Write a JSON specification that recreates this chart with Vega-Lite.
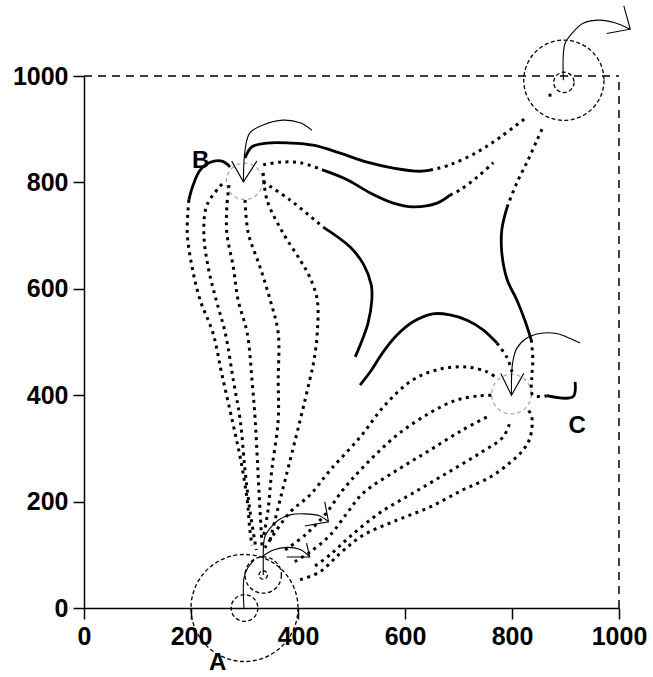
{
  "$schema": "https://vega.github.io/schema/vega-lite/v6.json",
  "autosize": {"type": "none"},
  "width": 535,
  "height": 532,
  "padding": {"left": 84, "top": 76, "right": 34, "bottom": 69},
  "background": "white",
  "config": {
    "view": {"stroke": null},
    "axis": {
      "title": null,
      "grid": false,
      "domainColor": "black",
      "domainWidth": 1.5,
      "tickColor": "black",
      "tickWidth": 1.5,
      "tickSize": 11,
      "labelFont": "Liberation Sans",
      "labelFontSize": 25,
      "labelFontWeight": "bold",
      "labelColor": "black",
      "labelPadding": 5,
      "labelFlush": false,
      "labelOverlap": false
    }
  },
  "datasets": {
    "frame": [
      {"x": 0, "y": 1000, "x2": 1000, "y2": 1000},
      {"x": 1000, "y": 0, "x2": 1000, "y2": 1000}
    ],
    "rings": [
      {"x": 300, "y": 0, "r": 100},
      {"x": 300, "y": 0, "r": 25},
      {"x": 335, "y": 62, "r": 34},
      {"x": 335, "y": 62, "r": 8},
      {"x": 897, "y": 992, "r": 75},
      {"x": 897, "y": 988, "r": 19}
    ],
    "targets": [
      {"x": 300, "y": 802, "r": 34},
      {"x": 799, "y": 402, "r": 37}
    ],
    "slow": [
      {"path": "B1h", "seq": 1, "x": 273, "y": 829}, {"path": "B1h", "seq": 2, "x": 258, "y": 840}, {"path": "B1h", "seq": 3, "x": 236, "y": 838}, {"path": "B1h", "seq": 4, "x": 217, "y": 823}, {"path": "B1h", "seq": 5, "x": 204, "y": 795}, {"path": "B1h", "seq": 6, "x": 196, "y": 767},
      {"path": "U1h", "seq": 1, "x": 301, "y": 846}, {"path": "U1h", "seq": 2, "x": 314, "y": 867}, {"path": "U1h", "seq": 3, "x": 342, "y": 874}, {"path": "U1h", "seq": 4, "x": 385, "y": 874}, {"path": "U1h", "seq": 5, "x": 428, "y": 870}, {"path": "U1h", "seq": 6, "x": 479, "y": 855}, {"path": "U1h", "seq": 7, "x": 529, "y": 838}, {"path": "U1h", "seq": 8, "x": 578, "y": 827}, {"path": "U1h", "seq": 9, "x": 628, "y": 821}, {"path": "U1h", "seq": 10, "x": 647, "y": 823},
      {"path": "U2h", "seq": 1, "x": 447, "y": 823}, {"path": "U2h", "seq": 2, "x": 492, "y": 805}, {"path": "U2h", "seq": 3, "x": 535, "y": 780}, {"path": "U2h", "seq": 4, "x": 578, "y": 761}, {"path": "U2h", "seq": 5, "x": 615, "y": 754}, {"path": "U2h", "seq": 6, "x": 660, "y": 761}, {"path": "U2h", "seq": 7, "x": 684, "y": 776},
      {"path": "Rh", "seq": 1, "x": 791, "y": 754}, {"path": "Rh", "seq": 2, "x": 781, "y": 711}, {"path": "Rh", "seq": 3, "x": 781, "y": 667}, {"path": "Rh", "seq": 4, "x": 791, "y": 617}, {"path": "Rh", "seq": 5, "x": 809, "y": 579}, {"path": "Rh", "seq": 6, "x": 824, "y": 541}, {"path": "Rh", "seq": 7, "x": 836, "y": 504},
      {"path": "H1h", "seq": 1, "x": 447, "y": 716}, {"path": "H1h", "seq": 2, "x": 497, "y": 679}, {"path": "H1h", "seq": 3, "x": 523, "y": 645}, {"path": "H1h", "seq": 4, "x": 537, "y": 607}, {"path": "H1h", "seq": 5, "x": 538, "y": 579}, {"path": "H1h", "seq": 6, "x": 531, "y": 536}, {"path": "H1h", "seq": 7, "x": 522, "y": 509}, {"path": "H1h", "seq": 8, "x": 507, "y": 472},
      {"path": "H2h", "seq": 1, "x": 516, "y": 419}, {"path": "H2h", "seq": 2, "x": 535, "y": 444}, {"path": "H2h", "seq": 3, "x": 559, "y": 481}, {"path": "H2h", "seq": 4, "x": 585, "y": 513}, {"path": "H2h", "seq": 5, "x": 615, "y": 538}, {"path": "H2h", "seq": 6, "x": 652, "y": 553}, {"path": "H2h", "seq": 7, "x": 684, "y": 551}, {"path": "H2h", "seq": 8, "x": 716, "y": 541}, {"path": "H2h", "seq": 9, "x": 746, "y": 523}, {"path": "H2h", "seq": 10, "x": 772, "y": 498},
      {"path": "Kh", "seq": 1, "x": 865, "y": 399}, {"path": "Kh", "seq": 2, "x": 914, "y": 397}, {"path": "Kh", "seq": 3, "x": 918, "y": 425}
    ],
    "fast": [
      {"path": "B1d", "seq": 1, "x": 196, "y": 767}, {"path": "B1d", "seq": 2, "x": 193, "y": 705}, {"path": "B1d", "seq": 3, "x": 202, "y": 641}, {"path": "B1d", "seq": 4, "x": 217, "y": 579}, {"path": "B1d", "seq": 5, "x": 241, "y": 517}, {"path": "B1d", "seq": 6, "x": 258, "y": 438}, {"path": "B1d", "seq": 7, "x": 277, "y": 353}, {"path": "B1d", "seq": 8, "x": 293, "y": 278}, {"path": "B1d", "seq": 9, "x": 305, "y": 203}, {"path": "B1d", "seq": 10, "x": 310, "y": 147}, {"path": "B1d", "seq": 11, "x": 314, "y": 118},
      {"path": "B2", "seq": 1, "x": 258, "y": 797}, {"path": "B2", "seq": 2, "x": 230, "y": 758}, {"path": "B2", "seq": 3, "x": 224, "y": 705}, {"path": "B2", "seq": 4, "x": 232, "y": 641}, {"path": "B2", "seq": 5, "x": 247, "y": 579}, {"path": "B2", "seq": 6, "x": 264, "y": 517}, {"path": "B2", "seq": 7, "x": 279, "y": 429}, {"path": "B2", "seq": 8, "x": 292, "y": 353}, {"path": "B2", "seq": 9, "x": 301, "y": 259}, {"path": "B2", "seq": 10, "x": 310, "y": 184}, {"path": "B2", "seq": 11, "x": 322, "y": 109},
      {"path": "B3", "seq": 1, "x": 271, "y": 795}, {"path": "B3", "seq": 2, "x": 267, "y": 754}, {"path": "B3", "seq": 3, "x": 267, "y": 705}, {"path": "B3", "seq": 4, "x": 279, "y": 641}, {"path": "B3", "seq": 5, "x": 288, "y": 579}, {"path": "B3", "seq": 6, "x": 305, "y": 517}, {"path": "B3", "seq": 7, "x": 314, "y": 429}, {"path": "B3", "seq": 8, "x": 320, "y": 353}, {"path": "B3", "seq": 9, "x": 325, "y": 259}, {"path": "B3", "seq": 10, "x": 329, "y": 184}, {"path": "B3", "seq": 11, "x": 333, "y": 113},
      {"path": "B4", "seq": 1, "x": 301, "y": 767}, {"path": "B4", "seq": 2, "x": 307, "y": 705}, {"path": "B4", "seq": 3, "x": 329, "y": 641}, {"path": "B4", "seq": 4, "x": 348, "y": 579}, {"path": "B4", "seq": 5, "x": 363, "y": 517}, {"path": "B4", "seq": 6, "x": 363, "y": 429}, {"path": "B4", "seq": 7, "x": 363, "y": 353}, {"path": "B4", "seq": 8, "x": 351, "y": 259}, {"path": "B4", "seq": 9, "x": 344, "y": 184}, {"path": "B4", "seq": 10, "x": 336, "y": 137},
      {"path": "B5", "seq": 1, "x": 335, "y": 818}, {"path": "B5", "seq": 2, "x": 342, "y": 767}, {"path": "B5", "seq": 3, "x": 372, "y": 705}, {"path": "B5", "seq": 4, "x": 404, "y": 654}, {"path": "B5", "seq": 5, "x": 422, "y": 622}, {"path": "B5", "seq": 6, "x": 436, "y": 579}, {"path": "B5", "seq": 7, "x": 436, "y": 517}, {"path": "B5", "seq": 8, "x": 430, "y": 466}, {"path": "B5", "seq": 9, "x": 422, "y": 429}, {"path": "B5", "seq": 10, "x": 404, "y": 353}, {"path": "B5", "seq": 11, "x": 376, "y": 241}, {"path": "B5", "seq": 12, "x": 357, "y": 165}, {"path": "B5", "seq": 13, "x": 348, "y": 128},
      {"path": "Ca", "seq": 1, "x": 338, "y": 113}, {"path": "Ca", "seq": 2, "x": 385, "y": 180}, {"path": "Ca", "seq": 3, "x": 422, "y": 212}, {"path": "Ca", "seq": 4, "x": 460, "y": 259}, {"path": "Ca", "seq": 5, "x": 516, "y": 321}, {"path": "Ca", "seq": 6, "x": 563, "y": 382}, {"path": "Ca", "seq": 7, "x": 615, "y": 429}, {"path": "Ca", "seq": 8, "x": 665, "y": 449}, {"path": "Ca", "seq": 9, "x": 716, "y": 453}, {"path": "Ca", "seq": 10, "x": 753, "y": 444}, {"path": "Ca", "seq": 11, "x": 772, "y": 432},
      {"path": "Cb", "seq": 1, "x": 376, "y": 109}, {"path": "Cb", "seq": 2, "x": 413, "y": 137}, {"path": "Cb", "seq": 3, "x": 450, "y": 175}, {"path": "Cb", "seq": 4, "x": 484, "y": 222}, {"path": "Cb", "seq": 5, "x": 522, "y": 265}, {"path": "Cb", "seq": 6, "x": 585, "y": 325}, {"path": "Cb", "seq": 7, "x": 647, "y": 367}, {"path": "Cb", "seq": 8, "x": 697, "y": 391}, {"path": "Cb", "seq": 9, "x": 740, "y": 399}, {"path": "Cb", "seq": 10, "x": 763, "y": 400},
      {"path": "Cc", "seq": 1, "x": 394, "y": 87}, {"path": "Cc", "seq": 2, "x": 422, "y": 105}, {"path": "Cc", "seq": 3, "x": 460, "y": 137}, {"path": "Cc", "seq": 4, "x": 492, "y": 179}, {"path": "Cc", "seq": 5, "x": 522, "y": 216}, {"path": "Cc", "seq": 6, "x": 585, "y": 259}, {"path": "Cc", "seq": 7, "x": 647, "y": 297}, {"path": "Cc", "seq": 8, "x": 708, "y": 335}, {"path": "Cc", "seq": 9, "x": 753, "y": 359},
      {"path": "Cd", "seq": 1, "x": 432, "y": 79}, {"path": "Cd", "seq": 2, "x": 460, "y": 100}, {"path": "Cd", "seq": 3, "x": 497, "y": 134}, {"path": "Cd", "seq": 4, "x": 553, "y": 179}, {"path": "Cd", "seq": 5, "x": 615, "y": 216}, {"path": "Cd", "seq": 6, "x": 679, "y": 254}, {"path": "Cd", "seq": 7, "x": 740, "y": 291}, {"path": "Cd", "seq": 8, "x": 783, "y": 321}, {"path": "Cd", "seq": 9, "x": 796, "y": 348},
      {"path": "Ce", "seq": 1, "x": 404, "y": 53}, {"path": "Ce", "seq": 2, "x": 441, "y": 68}, {"path": "Ce", "seq": 3, "x": 479, "y": 103}, {"path": "Ce", "seq": 4, "x": 522, "y": 137}, {"path": "Ce", "seq": 5, "x": 585, "y": 165}, {"path": "Ce", "seq": 6, "x": 647, "y": 190}, {"path": "Ce", "seq": 7, "x": 708, "y": 222}, {"path": "Ce", "seq": 8, "x": 759, "y": 246}, {"path": "Ce", "seq": 9, "x": 796, "y": 273}, {"path": "Ce", "seq": 10, "x": 821, "y": 297}, {"path": "Ce", "seq": 11, "x": 834, "y": 321}, {"path": "Ce", "seq": 12, "x": 837, "y": 359}, {"path": "Ce", "seq": 13, "x": 828, "y": 376},
      {"path": "U1d", "seq": 1, "x": 647, "y": 823}, {"path": "U1d", "seq": 2, "x": 684, "y": 833}, {"path": "U1d", "seq": 3, "x": 735, "y": 857}, {"path": "U1d", "seq": 4, "x": 778, "y": 885}, {"path": "U1d", "seq": 5, "x": 828, "y": 923},
      {"path": "U2s", "seq": 1, "x": 335, "y": 833}, {"path": "U2s", "seq": 2, "x": 366, "y": 838}, {"path": "U2s", "seq": 3, "x": 404, "y": 837}, {"path": "U2s", "seq": 4, "x": 447, "y": 823},
      {"path": "U2e", "seq": 1, "x": 684, "y": 776}, {"path": "U2e", "seq": 2, "x": 703, "y": 786}, {"path": "U2e", "seq": 3, "x": 735, "y": 810}, {"path": "U2e", "seq": 4, "x": 765, "y": 837},
      {"path": "Rt", "seq": 1, "x": 856, "y": 900}, {"path": "Rt", "seq": 2, "x": 847, "y": 880}, {"path": "Rt", "seq": 3, "x": 830, "y": 842}, {"path": "Rt", "seq": 4, "x": 809, "y": 799}, {"path": "Rt", "seq": 5, "x": 791, "y": 754},
      {"path": "Rb", "seq": 1, "x": 836, "y": 504}, {"path": "Rb", "seq": 2, "x": 839, "y": 466}, {"path": "Rb", "seq": 3, "x": 837, "y": 434}, {"path": "Rb", "seq": 4, "x": 839, "y": 400}, {"path": "Rb", "seq": 5, "x": 865, "y": 399},
      {"path": "H1d", "seq": 1, "x": 335, "y": 801}, {"path": "H1d", "seq": 2, "x": 385, "y": 767}, {"path": "H1d", "seq": 3, "x": 447, "y": 716},
      {"path": "H2d", "seq": 1, "x": 772, "y": 498}, {"path": "H2d", "seq": 2, "x": 791, "y": 470}, {"path": "H2d", "seq": 3, "x": 800, "y": 444}
    ],
    "arrows": [
      {"path": "Bs", "seq": 1, "x": 298, "y": 801}, {"path": "Bs", "seq": 2, "x": 301, "y": 861}, {"path": "Bs", "seq": 3, "x": 310, "y": 893}, {"path": "Bs", "seq": 4, "x": 335, "y": 908}, {"path": "Bs", "seq": 5, "x": 372, "y": 917}, {"path": "Bs", "seq": 6, "x": 404, "y": 912}, {"path": "Bs", "seq": 7, "x": 426, "y": 898},
      {"path": "Cs", "seq": 1, "x": 799, "y": 400}, {"path": "Cs", "seq": 2, "x": 801, "y": 460}, {"path": "Cs", "seq": 3, "x": 809, "y": 488}, {"path": "Cs", "seq": 4, "x": 827, "y": 507}, {"path": "Cs", "seq": 5, "x": 852, "y": 516}, {"path": "Cs", "seq": 6, "x": 883, "y": 516}, {"path": "Cs", "seq": 7, "x": 908, "y": 507}, {"path": "Cs", "seq": 8, "x": 927, "y": 498},
      {"path": "Ts", "seq": 1, "x": 896, "y": 992}, {"path": "Ts", "seq": 2, "x": 899, "y": 1061}, {"path": "Ts", "seq": 3, "x": 912, "y": 1080}, {"path": "Ts", "seq": 4, "x": 933, "y": 1099}, {"path": "Ts", "seq": 5, "x": 964, "y": 1105}, {"path": "Ts", "seq": 6, "x": 992, "y": 1100}, {"path": "Ts", "seq": 7, "x": 1021, "y": 1088},
      {"path": "As", "seq": 1, "x": 299, "y": 0}, {"path": "As", "seq": 2, "x": 299, "y": 56}, {"path": "As", "seq": 3, "x": 306, "y": 75}, {"path": "As", "seq": 4, "x": 318, "y": 90},
      {"path": "A2s", "seq": 1, "x": 335, "y": 62}, {"path": "A2s", "seq": 2, "x": 335, "y": 100},
      {"path": "a1", "seq": 1, "x": 332, "y": 96}, {"path": "a1", "seq": 2, "x": 354, "y": 109}, {"path": "a1", "seq": 3, "x": 379, "y": 114}, {"path": "a1", "seq": 4, "x": 404, "y": 110}, {"path": "a1", "seq": 5, "x": 422, "y": 96},
      {"path": "a2", "seq": 1, "x": 335, "y": 100}, {"path": "a2", "seq": 2, "x": 338, "y": 134}, {"path": "a2", "seq": 3, "x": 348, "y": 150}, {"path": "a2", "seq": 4, "x": 363, "y": 165}, {"path": "a2", "seq": 5, "x": 385, "y": 175}, {"path": "a2", "seq": 6, "x": 413, "y": 177}, {"path": "a2", "seq": 7, "x": 441, "y": 173}, {"path": "a2", "seq": 8, "x": 457, "y": 162}
    ],
    "heads": [
      {"path": "Bh", "seq": 1, "x": 276, "y": 840}, {"path": "Bh", "seq": 2, "x": 298, "y": 801}, {"path": "Bh", "seq": 3, "x": 323, "y": 840},
      {"path": "Ch", "seq": 1, "x": 779, "y": 441}, {"path": "Ch", "seq": 2, "x": 799, "y": 400}, {"path": "Ch", "seq": 3, "x": 822, "y": 441},
      {"path": "Th", "seq": 1, "x": 977, "y": 1080}, {"path": "Th", "seq": 2, "x": 1021, "y": 1088}, {"path": "Th", "seq": 3, "x": 1009, "y": 1132},
      {"path": "a1h", "seq": 1, "x": 379, "y": 96}, {"path": "a1h", "seq": 2, "x": 422, "y": 96}, {"path": "a1h", "seq": 3, "x": 416, "y": 122},
      {"path": "a2h", "seq": 1, "x": 413, "y": 154}, {"path": "a2h", "seq": 2, "x": 457, "y": 162}, {"path": "a2h", "seq": 3, "x": 450, "y": 200}
    ],
    "dots": [
      {"x": 871, "y": 964}
    ],
    "labels": [
      {"x": 250, "y": -104, "label": "A"},
      {"x": 218, "y": 841, "label": "B"},
      {"x": 922, "y": 342, "label": "C"}
    ]
  },
  "encoding": {
    "x": {"field": "x", "type": "quantitative", "scale": {"domain": [0, 1000], "nice": false, "zero": false}, "axis": {"orient": "bottom", "values": [0, 200, 400, 600, 800, 1000], "format": "d"}},
    "y": {"field": "y", "type": "quantitative", "scale": {"domain": [0, 1000], "nice": false, "zero": false}, "axis": {"orient": "left", "values": [0, 200, 400, 600, 800, 1000], "format": "d"}}
  },
  "layer": [
    {
      "data": {"name": "frame"},
      "mark": {"type": "rule", "color": "black", "strokeWidth": 1.5, "strokeDash": [8, 6]},
      "encoding": {"x2": {"field": "x2"}, "y2": {"field": "y2"}}
    },
    {
      "data": {"name": "targets"},
      "mark": {"type": "point", "shape": "circle", "filled": false, "opacity": 1, "stroke": "#aaaaaa", "strokeWidth": 1.3, "strokeDash": [4, 3]},
      "encoding": {"size": {"field": "r", "type": "quantitative", "scale": {"type": "pow", "exponent": 2, "domain": [0, 100], "range": [0, 11449]}, "legend": null}}
    },
    {
      "data": {"name": "rings"},
      "mark": {"type": "point", "shape": "circle", "filled": false, "opacity": 1, "stroke": "black", "strokeWidth": 1.3, "strokeDash": [4, 2.5]},
      "encoding": {"size": {"field": "r", "type": "quantitative", "scale": {"type": "pow", "exponent": 2, "domain": [0, 100], "range": [0, 11449]}, "legend": null}}
    },
    {
      "data": {"name": "fast"},
      "mark": {"type": "line", "interpolate": "catmull-rom", "color": "black", "strokeWidth": 3, "strokeDash": [3, 4.5], "strokeCap": "butt"},
      "encoding": {"detail": {"field": "path"}, "order": {"field": "seq"}}
    },
    {
      "data": {"name": "slow"},
      "mark": {"type": "line", "interpolate": "catmull-rom", "color": "black", "strokeWidth": 2.8},
      "encoding": {"detail": {"field": "path"}, "order": {"field": "seq"}}
    },
    {
      "data": {"name": "arrows"},
      "mark": {"type": "line", "interpolate": "catmull-rom", "color": "black", "strokeWidth": 1.1},
      "encoding": {"detail": {"field": "path"}, "order": {"field": "seq"}}
    },
    {
      "data": {"name": "heads"},
      "mark": {"type": "line", "interpolate": "linear", "color": "black", "strokeWidth": 1.1},
      "encoding": {"detail": {"field": "path"}, "order": {"field": "seq"}}
    },
    {
      "data": {"name": "dots"},
      "mark": {"type": "point", "shape": "square", "filled": true, "opacity": 1, "color": "black", "size": 9},
      "encoding": {}
    },
    {
      "data": {"name": "labels"},
      "mark": {"type": "text", "font": "Liberation Sans", "fontSize": 24, "fontWeight": "bold", "color": "black", "align": "center", "baseline": "middle"},
      "encoding": {"text": {"field": "label"}}
    }
  ]
}
